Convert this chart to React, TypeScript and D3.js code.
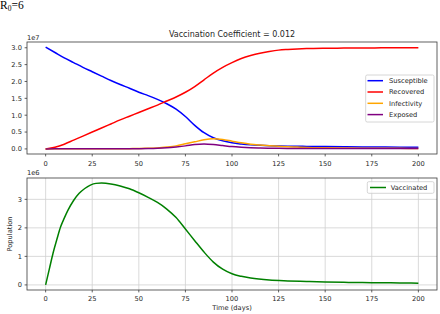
import React from "react";
import * as d3 from "d3";

// ---- Data ----
const seirTime = [0,5,10,15,20,25,30,35,40,45,50,55,60,65,70,75,80,85,90,95,100,105,110,115,120,125,130,135,140,150,160,170,180,190,200];
const susceptible = [3.02,2.86,2.70,2.56,2.42,2.29,2.16,2.03,1.91,1.80,1.68,1.58,1.47,1.34,1.18,0.96,0.70,0.48,0.33,0.24,0.18,0.145,0.12,0.105,0.095,0.088,0.082,0.078,0.075,0.068,0.062,0.058,0.055,0.052,0.05].map(v => v * 1e7);
const recovered = [0,0.05,0.14,0.26,0.38,0.50,0.62,0.74,0.86,0.97,1.08,1.19,1.30,1.42,1.54,1.68,1.85,2.05,2.25,2.42,2.56,2.68,2.77,2.84,2.89,2.93,2.95,2.965,2.975,2.985,2.99,2.995,2.997,2.999,3.0].map(v => v * 1e7);
const infectivity = [0,0.003,0.004,0.004,0.004,0.004,0.005,0.005,0.006,0.008,0.01,0.02,0.03,0.055,0.09,0.15,0.21,0.27,0.30,0.28,0.23,0.18,0.14,0.115,0.095,0.08,0.065,0.055,0.045,0.035,0.028,0.023,0.019,0.016,0.014].map(v => v * 1e7);
const exposed = [0,0.003,0.003,0.003,0.003,0.003,0.004,0.004,0.005,0.006,0.008,0.012,0.02,0.035,0.06,0.09,0.13,0.145,0.13,0.10,0.07,0.05,0.035,0.025,0.02,0.017,0.015,0.013,0.012,0.011,0.01,0.01,0.01,0.01,0.01].map(v => v * 1e7);

const vaccTime = [0,2,4,6,8,10,12,15,18,21,24,27,30,35,40,45,50,55,60,65,70,75,80,85,90,95,100,105,110,120,130,140,150,160,170,180,190,200];
const vaccinated = [0,0.56,1.12,1.59,2.03,2.34,2.62,2.96,3.21,3.38,3.50,3.56,3.57,3.54,3.47,3.37,3.23,3.07,2.89,2.66,2.36,1.96,1.55,1.15,0.80,0.55,0.39,0.30,0.24,0.17,0.14,0.12,0.10,0.09,0.085,0.075,0.07,0.06].map(v => v * 1e6);

const xTicks = [0,25,50,75,100,125,150,175,200];
const topYTicks = [0,0.5,1.0,1.5,2.0,2.5,3.0];
const bottomYTicks = [0,1,2,3];

const seriesTop = [
  { name: "Susceptible", values: susceptible, color: "#0000ff" },
  { name: "Recovered", values: recovered, color: "#ff0000" },
  { name: "Infectivity", values: infectivity, color: "#ffa500" },
  { name: "Exposed", values: exposed, color: "#800080" },
];

const FONT = "DejaVu Sans, sans-serif";
const TEXT = "#262626";
const SPINE = "#3a3a3a";

function padDomain(vals: number[]): [number, number] {
  const [mn, mx] = d3.extent(vals) as [number, number];
  const p = (mx - mn) * 0.05;
  return [mn - p, mx + p];
}

export default function App() {
  const L = 27, R = 437;
  const top1 = 42, bot1 = 154;
  const top2 = 178, bot2 = 290;

  const x = d3.scaleLinear().domain([-10, 210]).range([L, R]);
  const allTop = seriesTop.flatMap(s => s.values);
  const y1 = d3.scaleLinear().domain(padDomain(allTop)).range([bot1, top1]);
  const y2 = d3.scaleLinear().domain(padDomain(vaccinated)).range([bot2, top2]);

  const line1 = (vals: number[]) =>
    d3.line<number>().x((_, i) => x(seirTime[i])).y(d => y1(d)).curve(d3.curveMonotoneX)(vals) || "";
  const line2 = d3.line<number>().x((_, i) => x(vaccTime[i])).y(d => y2(d)).curve(d3.curveMonotoneX)(vaccinated) || "";

  const fs = 6.7;

  return (
    <svg width={440} height={314} style={{ position: "absolute", left: 0, top: 0, background: "#fff" }}>
      <rect x={0} y={0} width={440} height={314} fill="#fff" />
      {/* R0 label */}
      <text x={0} y={9} fontFamily="Liberation Serif, Times New Roman, serif" fontSize={11.5} fill="#000">
        R<tspan fontSize={7.5} dy={1.5}>0</tspan><tspan dy={-1.5}>=6</tspan>
      </text>

      {/* ---- Top axes ---- */}
      <text x={(L + R) / 2} y={36.5} textAnchor="middle" fontFamily={FONT} fontSize={8} fill={TEXT}>
        Vaccination Coefficient = 0.012
      </text>
      <text x={27} y={39.5} fontFamily={FONT} fontSize={fs} fill={TEXT}>1e7</text>
      <defs>
        <clipPath id="clip1"><rect x={L} y={top1} width={R - L} height={bot1 - top1} /></clipPath>
        <clipPath id="clip2"><rect x={L} y={top2} width={R - L} height={bot2 - top2} /></clipPath>
      </defs>
      <g clipPath="url(#clip1)">
        {seriesTop.map(s => (
          <path key={s.name} d={line1(s.values)} fill="none" stroke={s.color} strokeWidth={1.5} />
        ))}
      </g>
      <rect x={L} y={top1} width={R - L} height={bot1 - top1} fill="none" stroke={SPINE} strokeWidth={0.8} />
      {xTicks.map(t => (
        <g key={"xt1" + t}>
          <line x1={x(t)} x2={x(t)} y1={bot1} y2={bot1 + 2.4} stroke={SPINE} strokeWidth={0.8} />
          <text x={x(t)} y={bot1 + 11.5} textAnchor="middle" fontFamily={FONT} fontSize={fs} fill={TEXT}>{t}</text>
        </g>
      ))}
      {topYTicks.map(t => (
        <g key={"yt1" + t}>
          <line x1={L - 2.4} x2={L} y1={y1(t * 1e7)} y2={y1(t * 1e7)} stroke={SPINE} strokeWidth={0.8} />
          <text x={L - 5} y={y1(t * 1e7)} dy="0.36em" textAnchor="end" fontFamily={FONT} fontSize={fs} fill={TEXT}>{t.toFixed(1)}</text>
        </g>
      ))}
      {/* top legend */}
      <rect x={365.7} y={75} width={68.3} height={47} rx={1.5} fill="#fff" fillOpacity={0.8} stroke="#cccccc" strokeWidth={0.8} />
      {seriesTop.map((s, i) => {
        const yy = 80.7 + i * 11.3;
        return (
          <g key={"lg" + s.name}>
            <line x1={367.5} x2={383} y1={yy} y2={yy} stroke={s.color} strokeWidth={1.5} />
            <text x={389} y={yy} dy="0.36em" fontFamily={FONT} fontSize={fs} fill={TEXT}>{s.name}</text>
          </g>
        );
      })}

      {/* ---- Bottom axes ---- */}
      <text x={27} y={175} fontFamily={FONT} fontSize={fs} fill={TEXT}>1e6</text>
      {xTicks.map(t => (
        <line key={"gx" + t} x1={x(t)} x2={x(t)} y1={top2} y2={bot2} stroke="#d0d0d0" strokeWidth={0.8} />
      ))}
      {bottomYTicks.map(t => (
        <line key={"gy" + t} x1={L} x2={R} y1={y2(t * 1e6)} y2={y2(t * 1e6)} stroke="#d0d0d0" strokeWidth={0.8} />
      ))}
      <g clipPath="url(#clip2)">
        <path d={line2} fill="none" stroke="#008000" strokeWidth={1.5} />
      </g>
      <rect x={L} y={top2} width={R - L} height={bot2 - top2} fill="none" stroke={SPINE} strokeWidth={0.8} />
      {xTicks.map(t => (
        <g key={"xt2" + t}>
          <line x1={x(t)} x2={x(t)} y1={bot2} y2={bot2 + 2.4} stroke={SPINE} strokeWidth={0.8} />
          <text x={x(t)} y={bot2 + 10.5} textAnchor="middle" fontFamily={FONT} fontSize={fs} fill={TEXT}>{t}</text>
        </g>
      ))}
      {bottomYTicks.map(t => (
        <g key={"yt2" + t}>
          <line x1={L - 2.4} x2={L} y1={y2(t * 1e6)} y2={y2(t * 1e6)} stroke={SPINE} strokeWidth={0.8} />
          <text x={L - 5} y={y2(t * 1e6)} dy="0.36em" textAnchor="end" fontFamily={FONT} fontSize={fs} fill={TEXT}>{t}</text>
        </g>
      ))}
      <text x={(L + R) / 2} y={310} textAnchor="middle" fontFamily={FONT} fontSize={fs} fill={TEXT}>Time (days)</text>
      <text transform={`translate(11.5, ${(top2 + bot2) / 2}) rotate(-90)`} textAnchor="middle" fontFamily={FONT} fontSize={fs} fill={TEXT}>Population</text>
      {/* bottom legend */}
      <rect x={367.3} y={181.7} width={66.7} height={11.6} rx={1.5} fill="#fff" fillOpacity={0.8} stroke="#cccccc" strokeWidth={0.8} />
      <line x1={370} x2={386} y1={187.5} y2={187.5} stroke="#008000" strokeWidth={1.5} />
      <text x={390.7} y={187.5} dy="0.36em" fontFamily={FONT} fontSize={fs} fill={TEXT}>Vaccinated</text>
    </svg>
  );
}
